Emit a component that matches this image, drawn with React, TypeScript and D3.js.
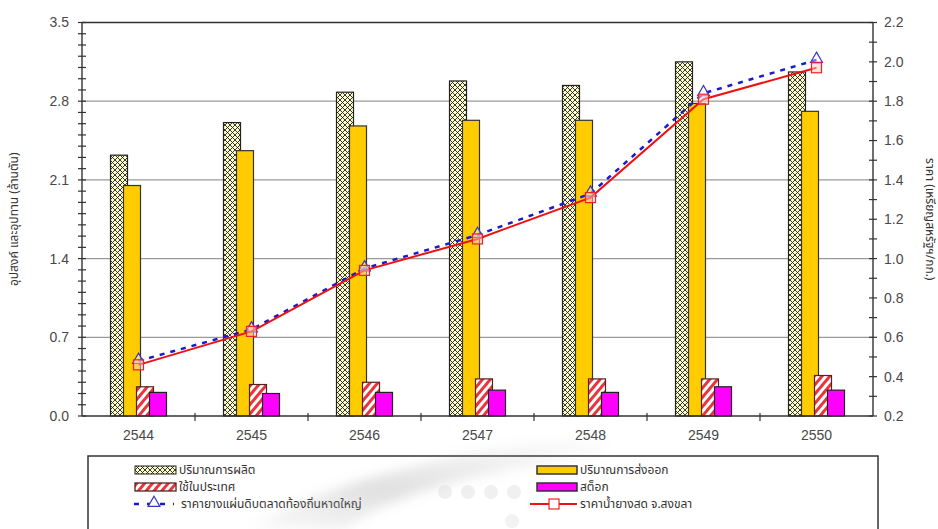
import React from 'react';
import * as d3 from 'd3';

// Years (Thai Buddhist era)
const years = ['2544', '2545', '2546', '2547', '2548', '2549', '2550'];

// Supply / demand, million tonnes (left axis)
const production = [2.32, 2.61, 2.88, 2.98, 2.94, 3.15, 3.06];
const exportsVol = [2.05, 2.36, 2.58, 2.63, 2.63, 2.78, 2.71];
const domestic = [0.26, 0.28, 0.30, 0.33, 0.33, 0.33, 0.36];
const stock = [0.21, 0.20, 0.21, 0.23, 0.21, 0.26, 0.23];

// Prices, USD/kg (right axis)
const sheetPrice = [0.48, 0.64, 0.95, 1.12, 1.33, 1.84, 2.01];
const latexPrice = [0.46, 0.63, 0.94, 1.10, 1.31, 1.81, 1.97];

const leftTicks = [0, 0.7, 1.4, 2.1, 2.8, 3.5];
const rightTicks = [0.2, 0.4, 0.6, 0.8, 1.0, 1.2, 1.4, 1.6, 1.8, 2.0, 2.2];

const barLabels = ['ปริมาณการผลิต', 'ปริมาณการส่งออก', 'ใช้ในประเทศ', 'สต็อก'];
const lineLabels = ['ราคายางแผ่นดิบตลาดท้องถิ่นหาดใหญ่', 'ราคาน้ำยางสด จ.สงขลา'];

const W = 938;
const H = 529;
const M = { left: 82, right: 873, top: 22.5, bottom: 416 };

const FONT = "'Liberation Sans', Arial, sans-serif";
const THAI = "Tahoma, 'Noto Sans Thai', 'Noto Sans', 'DejaVu Sans', sans-serif";

export default function App() {
  const x = d3.scaleBand<string>().domain(years).range([M.left, M.right]).padding(0);
  const yL = d3.scaleLinear().domain([0, 3.5]).range([M.bottom, M.top]);
  const yR = d3.scaleLinear().domain([0.2, 2.2]).range([M.bottom, M.top]);

  const barW = 17;
  const barStep = 13;
  const offset = d3.scaleLinear().domain([0, 3]).range([-1.5 * barStep, 1.5 * barStep]);
  const cx = (y: string) => (x(y) ?? 0) + x.bandwidth() / 2;

  const series = [
    { values: production, fill: 'url(#xhatch)', stroke: '#222' },
    { values: exportsVol, fill: '#ffcc00', stroke: '#333' },
    { values: domestic, fill: 'url(#stripes)', stroke: '#552222' },
    { values: stock, fill: '#ff00ff', stroke: '#222' },
  ];

  const line = d3
    .line<number>()
    .x((_, i) => cx(years[i]))
    .y((d) => yR(d));

  const minorLeft = d3.range(0, 3.5001, 0.1);
  const minorRight = d3.range(0.2, 2.2001, 0.1);

  const tri = d3.symbol().type(d3.symbolTriangle).size(60)();
  const rowY = [470, 487, 504];

  return (
    <div style={{ position: 'absolute', left: 0, top: 0 }}>
      <svg width={W} height={H} style={{ display: 'block', background: '#fff' }}>
        <defs>
          <pattern id="xhatch" width={5} height={5} patternUnits="userSpaceOnUse">
            <rect width={5} height={5} fill="#ffffcc" />
            <path d="M0,0 L5,5 M5,0 L0,5" stroke="#222" strokeWidth={0.9} />
          </pattern>
          <pattern id="stripes" width={6} height={6} patternUnits="userSpaceOnUse" patternTransform="rotate(40)">
            <rect width={6} height={6} fill="#fff" />
            <rect width={3} height={6} fill="#e8343a" />
          </pattern>
          <linearGradient id="swoosh" x1="0" y1="1" x2="1" y2="0">
            <stop offset="0" stopColor="#999" stopOpacity={0.05} />
            <stop offset="0.4" stopColor="#999" stopOpacity={0.3} />
            <stop offset="1" stopColor="#999" stopOpacity={0} />
          </linearGradient>
          <filter id="soft" x="-20%" y="-20%" width="140%" height="140%">
            <feGaussianBlur stdDeviation={6} />
          </filter>
        </defs>

        {/* gridlines */}
        {leftTicks.slice(1).map((t) => (
          <line key={t} x1={M.left} x2={M.right} y1={yL(t)} y2={yL(t)}
            stroke={t === 3.5 ? '#333' : '#9a9a9a'} strokeWidth={t === 3.5 ? 1.3 : 1.2} />
        ))}

        {/* bars */}
        {series.map((s, si) => (
          <g key={si}>
            {s.values.map((v, i) => (
              <rect key={i}
                x={cx(years[i]) + offset(si) - barW / 2}
                y={yL(v)}
                width={barW}
                height={yL(0) - yL(v)}
                fill={s.fill}
                stroke={s.stroke}
                strokeWidth={1.2} />
            ))}
          </g>
        ))}

        {/* price lines */}
        <path d={line(sheetPrice) ?? ''} fill="none" stroke="#1a1acc" strokeWidth={2.5} strokeDasharray="5,6" />
        {sheetPrice.map((v, i) => (
          <path key={i} d={tri ?? ''} transform={`translate(${cx(years[i])},${yR(v) - 1})`}
            fill="#fff" fillOpacity={0.4} stroke="#3333cc" strokeWidth={1.2} />
        ))}
        <path d={line(latexPrice) ?? ''} fill="none" stroke="#ee1111" strokeWidth={2} />
        {latexPrice.map((v, i) => (
          <rect key={i} x={cx(years[i]) - 5} y={yR(v) - 5} width={10} height={10}
            fill="#ffcccc" fillOpacity={0.5} stroke="#ee2222" strokeWidth={1.2} />
        ))}

        {/* axes */}
        <line x1={M.left} x2={M.left} y1={M.top} y2={M.bottom} stroke="#333" strokeWidth={1.4} />
        <line x1={M.right} x2={M.right} y1={M.top} y2={M.bottom} stroke="#333" strokeWidth={1.4} />
        <line x1={M.left} x2={M.right} y1={M.bottom} y2={M.bottom} stroke="#333" strokeWidth={1.4} />

        {minorLeft.map((t, i) => (
          <line key={i} x1={M.left - 4} x2={M.left + 4} y1={yL(t)} y2={yL(t)} stroke="#333" strokeWidth={1.2} />
        ))}
        {leftTicks.map((t) => (
          <text key={t} x={M.left - 13} y={yL(t)} dy="0.35em" textAnchor="end"
            fontFamily={FONT} fontSize={14} fill="#484848">{t.toFixed(1)}</text>
        ))}

        {minorRight.map((t, i) => (
          <line key={i} x1={M.right - 4} x2={M.right + 4} y1={yR(t)} y2={yR(t)} stroke="#333" strokeWidth={1.2} />
        ))}
        {rightTicks.map((t) => (
          <text key={t} x={M.right + 11} y={yR(t)} dy="0.35em" textAnchor="start"
            fontFamily={FONT} fontSize={14} fill="#484848">{t.toFixed(1)}</text>
        ))}

        {years.map((y, i) => (
          <g key={y}>
            {i > 0 && (
              <line x1={x(y)} x2={x(y)} y1={M.bottom - 3} y2={M.bottom + 5} stroke="#333" strokeWidth={1.2} />
            )}
            <text x={cx(y)} y={M.bottom + 24} textAnchor="middle" fontFamily={FONT} fontSize={14} fill="#484848">{y}</text>
          </g>
        ))}

        {/* axis titles */}
        <text transform={`translate(18,${(M.top + M.bottom) / 2}) rotate(-90)`} textAnchor="middle"
          fontFamily={THAI} fontSize={12} fill="#333">อุปสงค์ และอุปทาน (ล้านตัน)</text>
        <text transform={`translate(926,${(M.top + M.bottom) / 2}) rotate(90)`} textAnchor="middle"
          fontFamily={THAI} fontSize={12} fill="#333">ราคา (เหรียญสหรัฐฯ/กก.)</text>

        {/* legend */}
        <rect x={88} y={456} width={790} height={90} fill="#fff" stroke="#333" strokeWidth={1.5} />
        <g fontFamily={THAI} fontSize={12} fill="#333">
          <rect x={135} y={rowY[0] - 4} width={41} height={8} fill="url(#xhatch)" stroke="#222" />
          <text x={179} y={rowY[0]} dy="0.35em">{barLabels[0]}</text>
          <rect x={537} y={rowY[0] - 4} width={40} height={8} fill="#ffcc00" stroke="#333" strokeWidth={1.5} />
          <text x={580} y={rowY[0]} dy="0.35em">{barLabels[1]}</text>

          <rect x={135} y={rowY[1] - 4} width={41} height={8} fill="url(#stripes)" stroke="#552222" strokeWidth={1.3} />
          <text x={179} y={rowY[1]} dy="0.35em">{barLabels[2]}</text>
          <rect x={537} y={rowY[1] - 4} width={40} height={8} fill="#ff00ff" stroke="#333" strokeWidth={1.5} />
          <text x={580} y={rowY[1]} dy="0.35em">{barLabels[3]}</text>

          <line x1={133} x2={174} y1={rowY[2]} y2={rowY[2]} stroke="#1a1acc" strokeWidth={2.5} strokeDasharray="5,8" strokeDashoffset={-1} />
          <path d={tri ?? ''} transform={`translate(154,${rowY[2] - 1})`} fill="#fff" stroke="#3333cc" strokeWidth={1.2} />
          <text x={181} y={rowY[2]} dy="0.35em">{lineLabels[0]}</text>
          <line x1={530} x2={577} y1={rowY[2]} y2={rowY[2]} stroke="#ee1111" strokeWidth={2} />
          <rect x={549} y={rowY[2] - 5} width={10} height={10} fill="#fff" stroke="#ee2222" strokeWidth={1.2} />
          <text x={580} y={rowY[2]} dy="0.35em">{lineLabels[1]}</text>
        </g>

        {/* faint page watermark over the lower area */}
        <g pointerEvents="none">
          <path d="M250,529 C320,485 440,452 600,436 L605,456 C470,470 380,500 345,529 Z"
            fill="url(#swoosh)" filter="url(#soft)" />
          {[445, 468, 491, 514].map((d) => (
            <circle key={d} cx={d} cy={492} r={7} fill="#ccc" fillOpacity={0.3} />
          ))}
          <circle cx={512} cy={521} r={7} fill="#ccc" fillOpacity={0.25} />
        </g>
      </svg>
    </div>
  );
}
